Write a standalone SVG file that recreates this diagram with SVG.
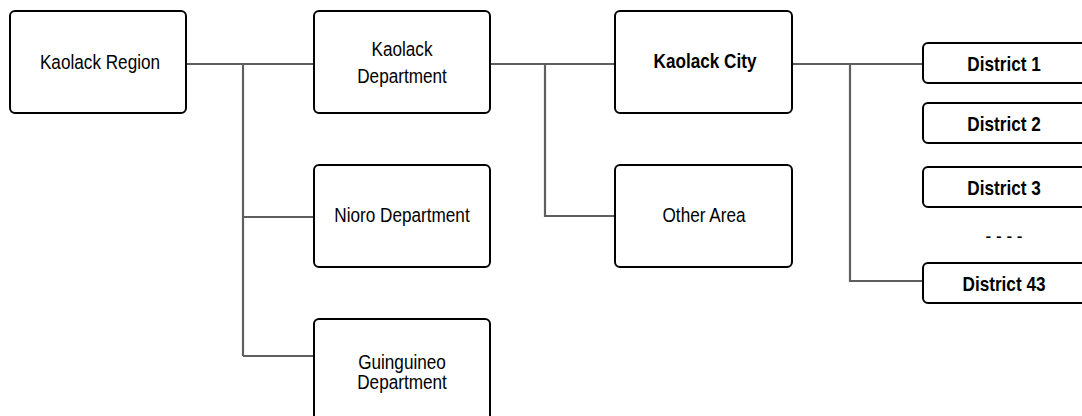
<svg xmlns="http://www.w3.org/2000/svg" width="1082" height="416" viewBox="0 0 1082 416">
<style>
.box{fill:#fff;stroke:#000;stroke-width:2}
.t{font-family:"Liberation Sans",Arial,sans-serif;font-size:19.5px;fill:#000;text-anchor:middle}
.b{font-weight:bold}
.c{fill:none;stroke:#5f5f5f;stroke-width:2.2}
</style>
<rect width="1082" height="416" fill="#fff"/>
<g id="connectors">
<path class="c" d="M186,64H314M243,64V356M243,217H314M243,356H314"/>
<path class="c" d="M490,64H615M545,64V216H615"/>
<path class="c" d="M792,64H923M850,64V281H923"/>
</g>
<g id="kaolack-region">
<rect class="box" x="10" y="11" width="176" height="102" rx="5"/>
<text class="t" transform="translate(100,69) scale(0.88,1)">Kaolack Region</text>
</g>
<g id="kaolack-department">
<rect class="box" x="314" y="11" width="176" height="102" rx="5"/>
<text class="t" transform="translate(402,56) scale(0.88,1)">Kaolack</text>
<text class="t" transform="translate(402,83) scale(0.88,1)">Department</text>
</g>
<g id="nioro-department">
<rect class="box" x="314" y="165" width="176" height="102" rx="5"/>
<text class="t" transform="translate(402,222) scale(0.88,1)">Nioro Department</text>
</g>
<g id="guinguineo-department">
<rect class="box" x="314" y="319" width="176" height="102" rx="5"/>
<text class="t" transform="translate(402,369) scale(0.88,1)">Guinguineo</text>
<text class="t" transform="translate(402,389) scale(0.88,1)">Department</text>
</g>
<g id="kaolack-city">
<rect class="box" x="615" y="11" width="177" height="102" rx="5"/>
<text class="t b" transform="translate(705,68) scale(0.88,1)">Kaolack City</text>
</g>
<g id="other-area">
<rect class="box" x="615" y="165" width="177" height="102" rx="5"/>
<text class="t" transform="translate(704,222) scale(0.88,1)">Other Area</text>
</g>
<g id="district-1">
<rect class="box" x="923" y="43" width="170" height="40" rx="5"/>
<text class="t b" transform="translate(1004,71) scale(0.88,1)">District 1</text>
</g>
<g id="district-2">
<rect class="box" x="923" y="103" width="170" height="40" rx="5"/>
<text class="t b" transform="translate(1004,131) scale(0.88,1)">District 2</text>
</g>
<g id="district-3">
<rect class="box" x="923" y="167" width="170" height="40" rx="5"/>
<text class="t b" transform="translate(1004,195) scale(0.88,1)">District 3</text>
</g>
<text class="t" transform="translate(1004,243) scale(0.88,1)">- - - -</text>
<g id="district-43">
<rect class="box" x="923" y="263" width="170" height="40" rx="5"/>
<text class="t b" transform="translate(1004,291) scale(0.88,1)">District 43</text>
</g>
</svg>
